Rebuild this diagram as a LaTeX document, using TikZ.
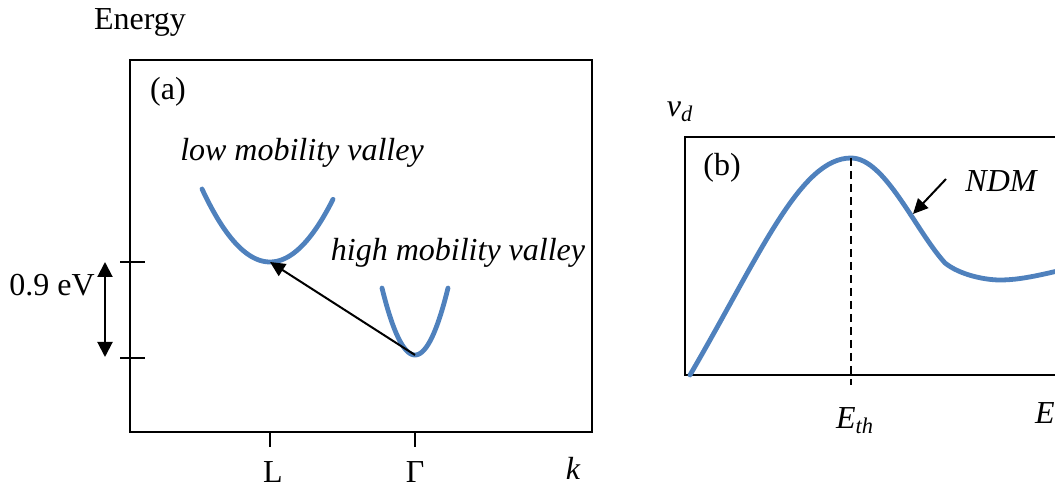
\documentclass[tikz,border=0pt]{standalone}
\usepackage{fontspec}
\setmainfont{Liberation Serif}
\usepackage{tikz}
\usetikzlibrary{arrows.meta, positioning, calc}
\definecolor{bandblue}{RGB}{79,129,189}
\tikzstyle{frame} = [line width=1.2pt, draw=black]
\tikzstyle{band} = [line width=2.4pt, draw=bandblue, line cap=round]
\tikzstyle{arrow} = [line width=1pt, -{Triangle[length=7.5pt,width=7pt]}]
\tikzstyle{dblarrow} = [line width=1pt, {Triangle[length=7.5pt,width=7.5pt]}-{Triangle[length=7.5pt,width=7.5pt]}]
\tikzstyle{lbl} = [inner sep=0pt, font=\fontsize{16}{19}\selectfont]
\tikzstyle{itlbl} = [inner sep=0pt, font=\fontsize{16}{19}\selectfont\itshape]

\begin{document}
\begin{tikzpicture}[x=0.5pt, y=-0.5pt]
        \useasboundingbox (0,0) rectangle (1055,491);
        \clip (0,0) rectangle (1055,491);

        % (a) energy bands
        \draw [frame] (130,60) rectangle (592,432);
        \node (energy) [lbl] at (140,22) {Energy};
        \node (pa) [lbl] at (168,92) {(a)};
        \node (lowlbl) [itlbl] at (302,153) {low mobility valley};
        \node (highlbl) [itlbl] at (458,253) {high mobility valley};
        \coordinate (Lmin) at (270,262);
        \coordinate (Gmin) at (415,355);
        \draw [band] plot[domain=-68:63, samples=60] ({270+\x},{262-0.0158*\x*\x});
        \draw [band] plot[domain=-33:33, samples=60] ({415+\x},{355-0.0615*\x*\x});
        \draw [arrow] (Gmin) -- (Lmin);

        \draw [frame] (120,262) -- (145,262);
        \draw [frame] (120,358) -- (145,358);
        \coordinate (gaptop) at (105,262);
        \coordinate (gapbot) at (105,357);
        \draw [dblarrow] (gaptop) -- (gapbot);
        \node (gap) [lbl] at (52,285) {0.9 eV};

        \draw [frame] (270,432) -- (270,447);
        \draw [frame] (415,432) -- (415,447);
        \node (L) [lbl] at (273,472) {L};
        \node (G) [lbl] at (415,472) {Γ};
        \node (k) [itlbl] at (573,468) {k};

        % (b) drift velocity
        \draw [frame] (685,137) rectangle (1120,375);
        \node (vd) [itlbl] at (680,112) {v\textsubscript{d}};
        \node (pb) [lbl] at (722,168) {(b)};
        \coordinate (peak) at (851,158);
        \coordinate (knee) at (945,263);
        \coordinate (valley) at (1000,280);
        \draw [band] (690,375) .. controls (760,255) and (800,158) .. (peak)
                .. controls (885,158) and (915,230) .. (knee)
                .. controls (960,275) and (985,280) .. (valley)
                .. controls (1020,280) and (1040,275) .. (1062,270);
        \draw [line width=1pt, dash pattern=on 4pt off 2.5pt] (peak) -- (851,385);
        \node (Eth) [itlbl] at (855,421) {E\textsubscript{th}};
        \node (E) [itlbl, anchor=east] at (1055,413) {E};
        \node (ndm) [itlbl] at (1001,181) {NDM};
        \coordinate (ndmtail) at (946,179);
        \coordinate (ndmtip) at (913,214);
        \draw [arrow] (ndmtail) -- (ndmtip);
\end{tikzpicture}
\end{document}
